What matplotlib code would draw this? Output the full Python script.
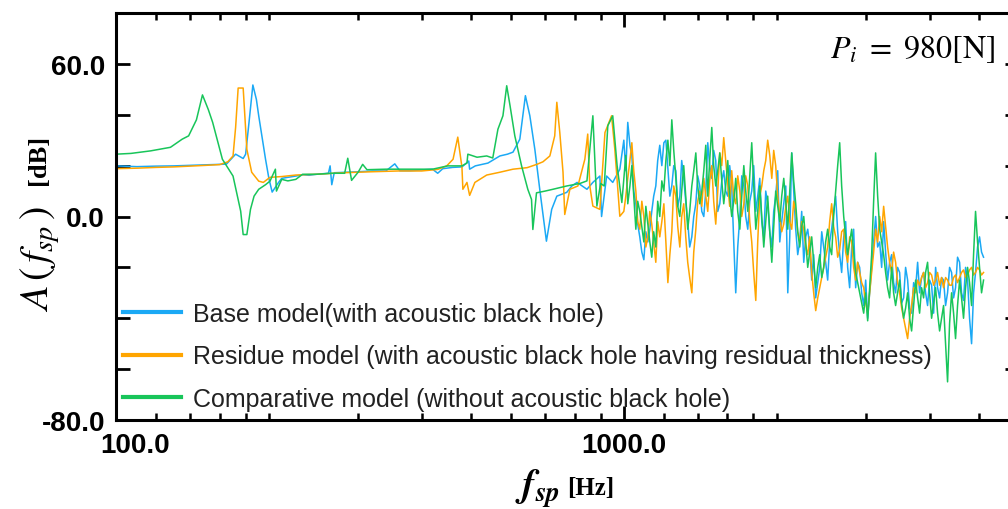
import matplotlib.pyplot as plt
import matplotlib.ticker as mticker
import matplotlib.transforms as mtransforms

plt.rcParams['mathtext.fontset'] = 'stix'
plt.rcParams['font.family'] = 'Liberation Sans'

# ---- data (frequency in Hz, level in dB) ----
# low frequency part, one grid per model
base_f_lo = [100, 110, 120, 130, 140, 150, 160, 165, 172, 178, 180, 183, 186,
             189, 191, 194, 197, 200, 203, 209, 212, 218, 226, 233, 240, 248,
             255, 262, 264, 266, 269, 285, 300, 320, 340, 354, 362, 380, 400,
             420, 430, 440, 460, 480, 495, 497, 510, 540, 570, 590, 605, 624,
             640, 653, 668, 683, 704, 721, 738, 772, 790, 809, 846, 869, 897,
             904, 925, 951, 982]
base_db_lo = [19.9, 19.6, 19.8, 19.9, 20.1, 20.3, 20.5, 20.6, 24.5, 22.8, 24.5,
              38.0, 51.7, 46.0, 39.6, 31.0, 22.5, 15.0, 9.6, 13.4, 15.0, 15.4,
              15.9, 16.4, 16.2, 16.6, 16.8, 17.0, 19.9, 12.5, 17.2, 17.4, 17.6,
              17.9, 17.9, 20.7, 18.0, 18.0, 18.3, 18.6, 17.0, 18.8, 19.3, 19.5,
              21.8, 18.6, 19.9, 21.0, 23.8, 24.5, 25.3, 30.4, 47.5, 39.6, 26.4,
              10.7, -9.7, 2.8, 8.0, 9.5, 12.0, 13.4, 10.7, 13.4, 15.9, 0.0,
              15.9, 13.4, 18.6]

residue_f_lo = [100, 110, 120, 130, 140, 150, 160, 166, 170, 172, 174, 178,
                181, 185, 191, 195, 201, 212, 226, 248, 280, 320, 360, 400,
                430, 448, 461, 471, 480, 482, 491, 497, 509, 537, 570, 605,
                645, 674, 693, 715, 731, 738, 748, 759, 765, 783, 812, 838,
                849, 857, 869, 897, 918, 946, 960, 982]
residue_db_lo = [18.8, 19.0, 19.3, 19.5, 19.8, 20.1, 20.4, 21.5, 23.8, 35.0,
                 50.5, 50.5, 26.4, 17.4, 13.9, 13.4, 15.4, 15.7, 16.3, 16.6,
                 17.2, 17.6, 17.9, 17.9, 18.5, 19.9, 22.5, 31.2, 19.3, 10.7,
                 13.4, 8.3, 13.4, 16.3, 17.4, 18.6, 19.2, 20.5, 21.5, 23.8,
                 31.7, 44.9, 33.0, 17.4, 0.8, 10.7, 12.0, 22.5, 32.4, 12.0,
                 4.1, 2.8, 33.0, 39.6, 26.4, 0.1]

comp_f_lo = [100, 107, 117, 128, 135, 139, 144, 148, 152, 155, 162, 170, 176,
             178, 181, 184, 187, 191, 197, 201, 206, 207, 212, 218, 226, 233,
             248, 266, 282, 286, 291, 300, 306, 312, 340, 380, 420, 450, 480,
             491, 493, 514, 537, 552, 565, 578, 588, 597, 610, 629, 647, 658,
             662, 673, 700, 725, 772, 820, 846, 869, 885, 900, 915, 930, 951,
             970, 991]
comp_db_lo = [24.5, 24.8, 25.8, 27.2, 30.4, 31.7, 38.0, 47.8, 42.0, 37.0, 22.5,
              15.9, 2.1, -7.1, -7.1, 2.8, 8.0, 10.7, 12.5, 13.9, 18.6, 10.0,
              14.6, 14.0, 14.6, 16.6, 16.6, 17.0, 17.0, 22.9, 14.2, 17.5, 20.5,
              18.4, 18.6, 18.6, 18.6, 19.9, 19.9, 21.0, 24.5, 23.3, 23.8, 23.0,
              34.3, 39.6, 51.4, 43.5, 31.7, 19.9, 10.7, 6.7, -5.1, 9.3, 10.0,
              10.7, 12.0, 13.0, 14.0, 39.6, 4.1, 13.0, 12.0, 35.7, 39.6, 20.0,
              5.5]

# high frequency part, shared grid
f_hi = [1000, 1009, 1018, 1028, 1037, 1046, 1056, 1065, 1075, 1085,
        1095, 1105, 1115, 1125, 1135, 1145, 1156, 1166, 1177, 1188,
        1199, 1210, 1221, 1232, 1243, 1254, 1266, 1277, 1289, 1300,
        1312, 1324, 1336, 1348, 1361, 1373, 1386, 1398, 1411, 1424,
        1437, 1450, 1463, 1476, 1490, 1503, 1517, 1531, 1545, 1559,
        1573, 1587, 1602, 1616, 1631, 1646, 1661, 1676, 1692, 1707,
        1723, 1738, 1754, 1770, 1786, 1802, 1819, 1835, 1852, 1869,
        1886, 1903, 1920, 1938, 1956, 1973, 1991, 2009, 2028, 2046,
        2065, 2084, 2103, 2122, 2141, 2160, 2180, 2200, 2220, 2240,
        2261, 2281, 2302, 2323, 2344, 2365, 2387, 2409, 2431, 2453,
        2475, 2497, 2520, 2543, 2566, 2589, 2613, 2637, 2661, 2685,
        2710, 2734, 2759, 2784, 2810, 2835, 2861, 2887, 2913, 2940,
        2967, 2994, 3021, 3048, 3076, 3104, 3132, 3161, 3190, 3219,
        3248, 3277, 3307, 3337, 3368, 3398, 3429, 3460, 3492, 3524,
        3556, 3588, 3621, 3654, 3687, 3721, 3755, 3789, 3823, 3858,
        3893, 3928, 3964, 4000, 4037, 4074, 4111, 4148, 4186, 4224,
        4262, 4301, 4340, 4380, 4420, 4460, 4500, 4541, 4583, 4624,
        4666, 4709, 4752, 4795, 4839, 4883, 4927, 4972, 5017, 5063,
        5109]
base_db_hi = [30, 18, 37, 28, 24, 10, 5, -3, -8, -14,
              -17, -6, -10, -5, 2, 8, 12, 22, 28, 20,
              29, 30, 19, 8, 12, 20, 18, 4, 8, 22,
              15, 6, -2, -12, -8, 0, 5, 16, 12, 2,
              0, 10, 29, 20, 15, 26, 22, 2, 5, 14,
              18, 10, 8, 20, 12, -10, -30, -12, 0, 16,
              12, 0, -5, 6, 10, 20, 2, 8, 15, -2,
              -8, 10, 5, -6, -12, 2, 8, 18, -10, -2,
              5, 12, -30, -8, 25, 10, -5, -15, -10, 2,
              -18, -8, -5, -12, -25, -15, -32, -26, -20, -6,
              -12, -18, -25, -10, -5, 2, 8, -6, -15, -22,
              -8, -2, -20, -28, -12, -5, -28, -18, -20, -30,
              -35, -25, -40, -30, -20, -10, 0, -12, -10, -20,
              -2, -14, -25, -18, -15, -26, -30, -20, -22, -34,
              -32, -20, -25, -36, -38, -26, -28, -18, -30, -24,
              -22, -30, -35, -25, -27, -38, -20, -28, -32, -24,
              -25, -35, -30, -20, -22, -32, -28, -16, -18, -30,
              -33, -20, -25, -40, -50, -30, -22, -12, -8, -14,
              -16]
residue_db_hi = [2, 8, 15, 22, 29, 18, 10, -2, -5, 6,
                 0, -12, -8, 2, -3, -10, -18, -2, -8, -2,
                 5, -10, -26, -15, -6, 12, 8, -4, -12, 0,
                 5, -8, -18, -24, -30, -14, -5, 6, 10, 4,
                 15, 8, 2, 14, 20, 6, -3, 10, 25, 20,
                 31, 22, 12, 4, 18, 8, 5, 16, 10, 0,
                 5, 16, 12, -2, -10, -22, -33, -10, 8, 12,
                 18, 22, 30, 24, 15, 26, 20, 8, 0, -6,
                 -3, 4, 8, -2, -5, 6, 2, -6, -10, -2,
                 -5, -12, -15, -8, -22, -30, -37, -32, -28, -24,
                 -20, -16, -12, -2, 5, -4, -8, -16, -13, -6,
                 -5, -14, -18, -8, -10, -20, -25, -18, -22, -26,
                 -28, -34, -38, -30, -22, -14, -5, -10, 0, -6,
                 4, -4, -12, -18, -22, -14, -18, -26, -30, -36,
                 -40, -44, -48, -40, -35, -28, -30, -25, -27, -24,
                 -22, -28, -26, -22, -23, -27, -25, -22, -27, -24,
                 -28, -24, -25, -27, -27, -24, -23, -26, -24, -22,
                 -21, -24, -23, -21, -20, -23, -22, -20, -21, -23,
                 -22]
comp_db_hi = [15, 24, 5, 12, 20, 8, -5, 6, 2, -4,
              -10, 4, -3, -10, -16, -6, -12, 6, 0, 14,
              10, 22, 30, 20, 38, 26, 15, 4, 0, 10,
              20, 8, -5, 2, 12, 18, 25, 12, 5, 10,
              18, 28, 8, 22, 35, 20, 12, 18, 25, 14,
              5, 12, 22, 8, 0, 6, 15, 2, -5, 8,
              20, 10, 2, 16, 29, 12, -5, 2, 12, 0,
              -12, -2, 8, -6, -18, -4, 10, 4, -2, 8,
              15, 6, -5, 10, 25, 14, 5, -6, -12, -4,
              0, -10, -20, -14, -8, -18, -28, -20, -15, -24,
              -20, -10, -5, -12, -15, 0, 10, 20, 29, 12,
              0, -8, -15, -10, -5, -14, -22, -26, -30, -34,
              -38, -30, -41, -28, -15, 6, 25, 8, -5, -10,
              -15, -22, -28, -32, -20, -30, -35, -30, -25, -34,
              -40, -36, -30, -40, -45, -35, -25, -32, -38, -28,
              -32, -22, -18, -30, -40, -34, -28, -38, -45, -40,
              -35, -50, -65, -42, -30, -38, -48, -35, -25, -32,
              -40, -28, -20, -26, -35, -15, 2, -10, -20, -30,
              -25]

labels = ["Base model(with acoustic black hole)",
          "Residue model (with acoustic black hole having residual thickness)",
          "Comparative model (without acoustic black hole)"]
colors = ['#1BA9F5', '#FFA500', '#18C55A']

x_major = [100, 1000]
x_major_labels = ['100.0', '1000.0']
x_minor = [120, 140, 160, 180, 200, 300, 400, 500, 600, 700, 800, 900,
           1200, 1400, 1600, 1800, 2000, 3000, 4000, 5000]
y_major = [-80, -60, -40, -20, 0, 20, 40, 60]
y_major_labels = ['-80.0', '', '', '', '0.0', '', '', '60.0']


fig = plt.figure(figsize=(10.08, 5.10), dpi=100)
ax = fig.add_axes([116 / 1008, 1 - 421 / 510, 903 / 1008, 407 / 510])

ax.plot(base_f_lo + f_hi, base_db_lo + base_db_hi, color=colors[0], lw=1.1,
        label=labels[0])
ax.plot(residue_f_lo + f_hi, residue_db_lo + residue_db_hi, color=colors[1],
        lw=1.1, label=labels[1])
ax.plot(comp_f_lo + f_hi, comp_db_lo + comp_db_hi, color=colors[2], lw=1.1,
        label=labels[2])

ax.set_xscale('log')
ax.set_xlim(100, 6000)
ax.set_ylim(-80, 80)

ax.xaxis.set_major_locator(mticker.FixedLocator(x_major))
ax.xaxis.set_major_formatter(mticker.FixedFormatter(x_major_labels))
ax.xaxis.set_minor_locator(mticker.FixedLocator(x_minor))
ax.xaxis.set_minor_formatter(mticker.NullFormatter())
ax.yaxis.set_major_locator(mticker.FixedLocator(y_major))
ax.yaxis.set_major_formatter(mticker.FixedFormatter(y_major_labels))
ax.yaxis.set_minor_locator(mticker.NullLocator())

ax.tick_params(which='both', direction='in', top=True, right=True)
ax.tick_params(which='major', length=10, width=2.0)
ax.tick_params(which='minor', length=5, width=1.8)
ax.tick_params(axis='x', which='major', pad=9)
ax.tick_params(axis='y', which='major', pad=8)
for lab in ax.get_xticklabels() + ax.get_yticklabels():
    lab.set_fontweight('bold')
    lab.set_fontsize(20)
for sp in ax.spines.values():
    sp.set_linewidth(2.2)

# the "100.0" label sits to the right of its tick in the original
offset = mtransforms.ScaledTranslation(0.19, 0, fig.dpi_scale_trans)
lab0 = ax.get_xticklabels()[0]
lab0.set_transform(lab0.get_transform() + offset)

leg = ax.legend(loc='lower left', bbox_to_anchor=(0.008, 0.022),
                frameon=False, fontsize=18, handlelength=2.3,
                handletextpad=0.5, labelspacing=0.75, borderpad=0,
                borderaxespad=0)
for line in leg.get_lines():
    line.set_linewidth(3)
for txt in leg.get_texts():
    txt.set_color('#222222')

fig.text(995 / 1008, 1 - 50 / 510, r'$P_i\ =\ 980[\mathrm{N}]$', ha='right',
         va='center', fontsize=23)

# axis titles
fig.text(40 / 1008, 1 - 259 / 510, r'$A\,(\,f_{sp}\,)$', rotation=90,
         ha='center', va='center', fontsize=29)
fig.text(38 / 1008, 1 - 160 / 510, '[dB]', rotation=90, ha='center',
         va='center', fontsize=19, family='Liberation Serif',
         fontweight='bold')
fig.text(515 / 1008, 1 - 497 / 510, r'$\mathbfit{f}_{\mathbfit{sp}}$',
         ha='left', va='baseline', fontsize=28)
fig.text(567 / 1008, 1 - 495 / 510, '[Hz]', ha='left', va='baseline',
         fontsize=18, family='Liberation Serif', fontweight='bold')

fig.savefig('out.png', dpi=100)
